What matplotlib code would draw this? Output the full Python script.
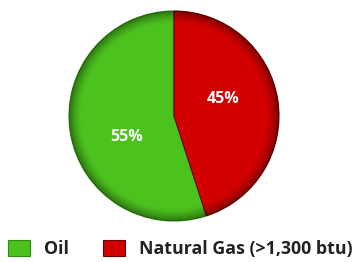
import matplotlib
matplotlib.use("Agg")
import matplotlib.pyplot as plt
import numpy as np
from matplotlib.patches import Patch, Circle

labels = ["Oil", "Natural Gas (>1,300 btu)"]
values = [55, 45]
pct_labels = ["55%", "45%"]
colors = ["#4cc21e", "#d20000"]
edge_colors = ["#2f8a10", "#6a0000"]

W, H = 356, 262
fig = plt.figure(figsize=(W / 100, H / 100), dpi=100)
cx, cy, r = 174, 116, 105
ax = fig.add_axes([(cx - r) / W, (H - cy - r) / H, 2 * r / W, 2 * r / H])

wedges, _ = ax.pie(values, colors=colors, startangle=90, counterclock=True,
                   radius=1.0, wedgeprops=dict(linewidth=0.8))
for w, ec in zip(wedges, edge_colors):
    w.set_edgecolor(ec)

# bevel shading overlay: darker toward the rim
n = 300
yy, xx = np.mgrid[-1:1:n * 1j, -1:1:n * 1j]
rr = np.sqrt(xx ** 2 + yy ** 2)
alpha = np.clip((rr - 0.88) / 0.12, 0, 1) ** 1.5 * 0.4
rgba = np.zeros((n, n, 4))
rgba[..., 3] = alpha
im = ax.imshow(rgba, extent=(-1, 1, -1, 1), origin="lower", zorder=3,
               interpolation="bilinear")
clip = Circle((0, 0), 1.0, transform=ax.transData)
im.set_clip_path(clip)
ax.set_xlim(-1, 1)
ax.set_ylim(-1, 1)
ax.set_aspect("auto")
ax.axis("off")

ax.text(-0.45, -0.20, pct_labels[0], color="white", fontsize=11.5,
        fontweight="bold", ha="center", va="center", family="Open Sans", zorder=5)
ax.text(0.47, 0.16, pct_labels[1], color="white", fontsize=11.5,
        fontweight="bold", ha="center", va="center", family="Open Sans", zorder=5)

fs = 12.8
px = fs * 100 / 72
handles = [Patch(facecolor=c, edgecolor=ec, linewidth=0.8) for c, ec in zip(colors, edge_colors)]
leg = fig.legend(handles, labels, loc="center left", bbox_to_anchor=(8 / W, 13 / H),
                 ncol=2, frameon=False, handlelength=22 / px,
                 handleheight=18 / px, handletextpad=14 / px, columnspacing=34 / px,
                 borderaxespad=0, borderpad=0,
                 prop=dict(family="Open Sans", weight="bold", size=fs))
for t in leg.get_texts():
    t.set_color("#222222")

fig.savefig("out.png", dpi=100, facecolor="white")
